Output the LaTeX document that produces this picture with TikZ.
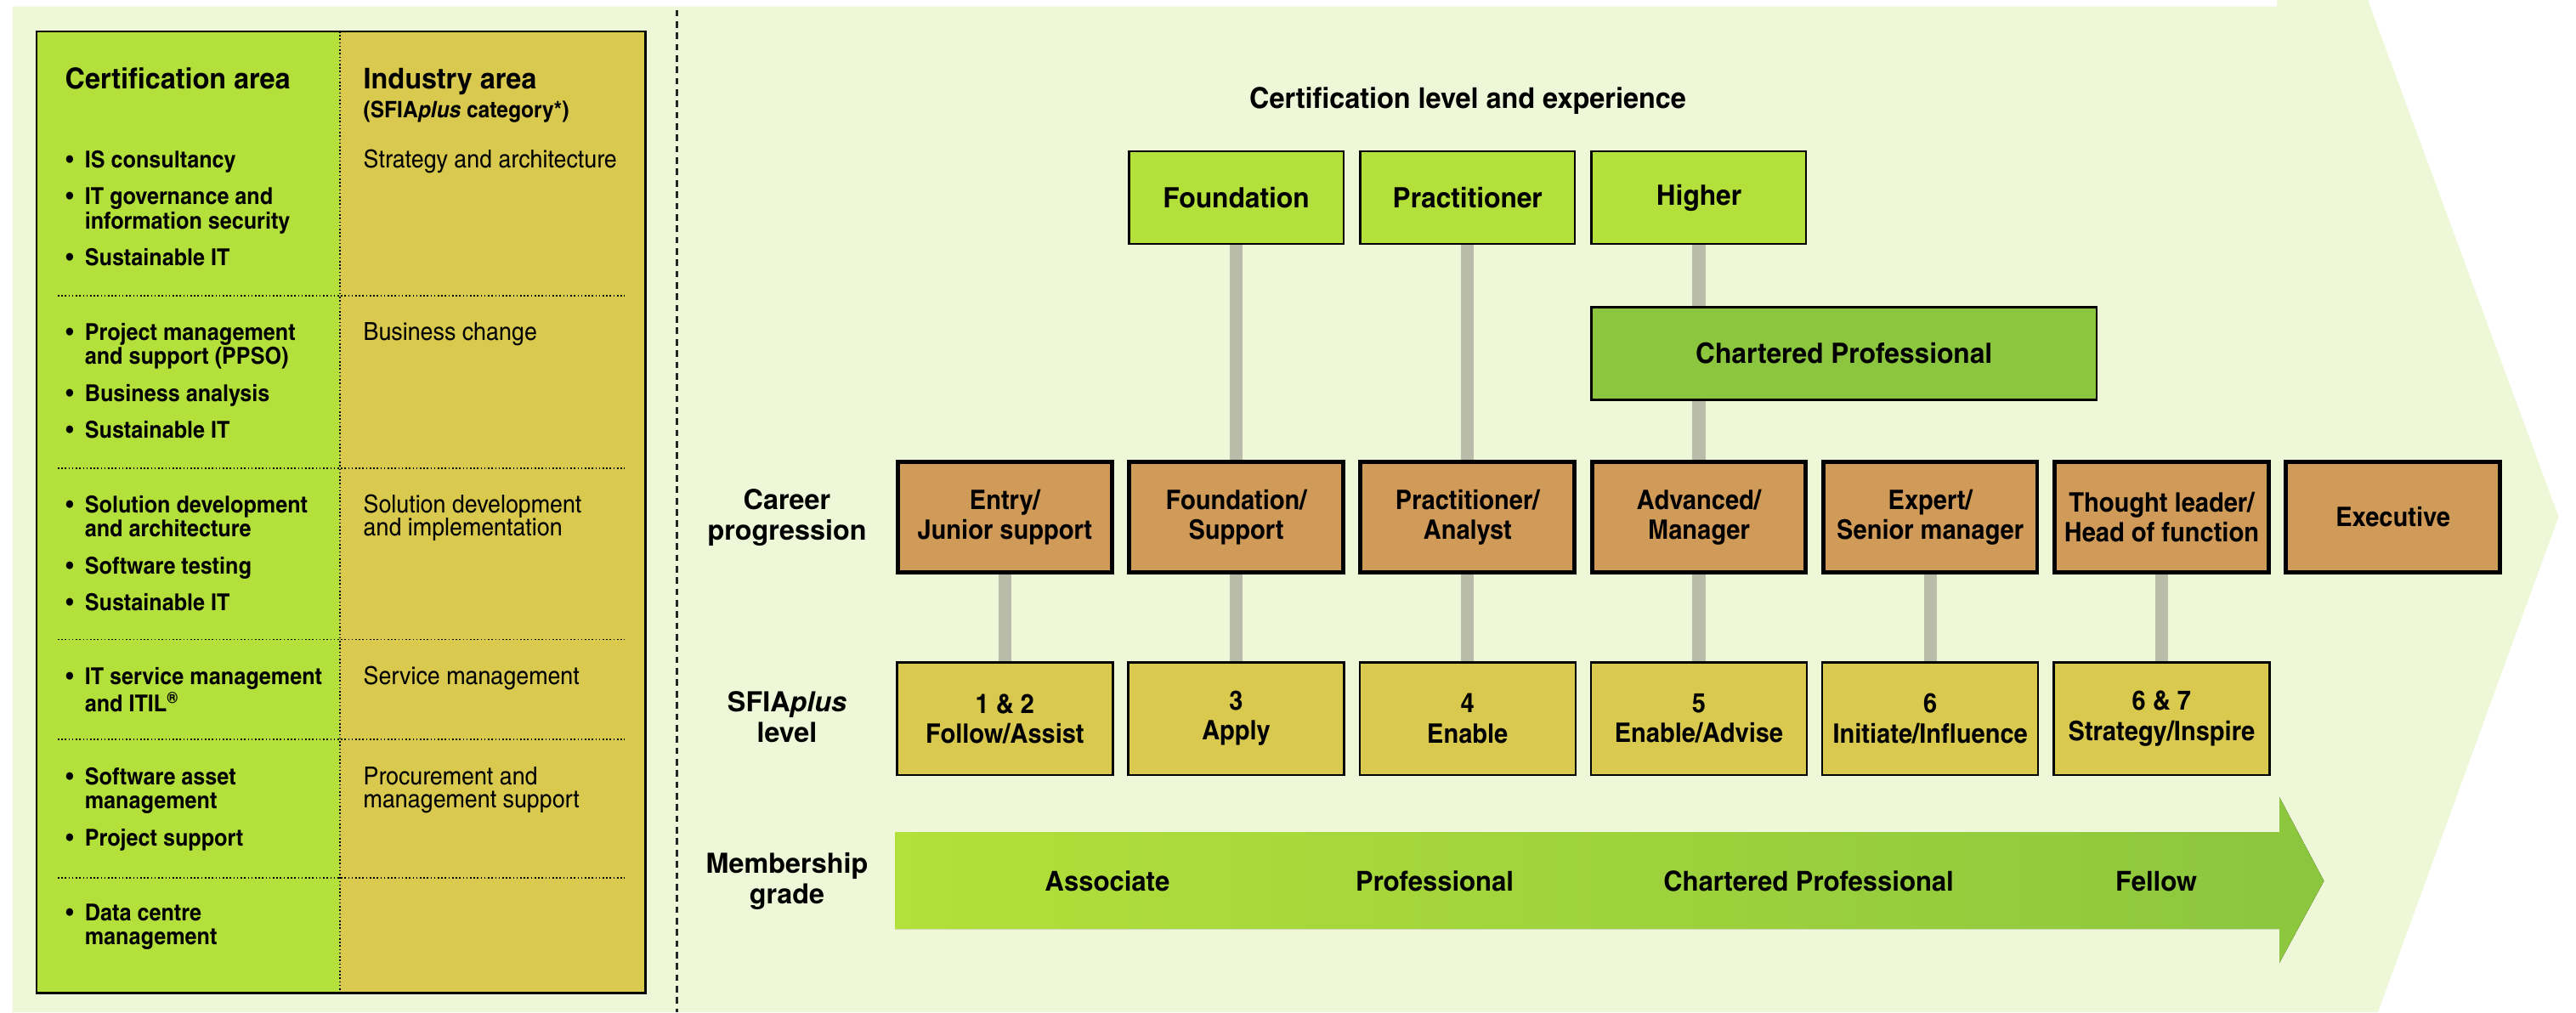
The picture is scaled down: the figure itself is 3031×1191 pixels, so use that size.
\documentclass[tikz,border=0pt]{standalone}
\usepackage{fontspec}
\setmainfont{texgyreheroscn}[
  Extension      = .otf,
  UprightFont    = *-regular,
  BoldFont       = *-bold,
  ItalicFont     = *-italic,
  BoldItalicFont = *-bolditalic,
  FakeStretch    = 1.12]
\newfontfamily\headfamily{texgyreheroscn}[
  Extension      = .otf,
  UprightFont    = *-regular,
  BoldFont       = *-bold,
  ItalicFont     = *-italic,
  BoldItalicFont = *-bolditalic,
  FakeStretch    = 1.17]
\newfontfamily\widefont{texgyreheros}[
  Extension      = .otf,
  UprightFont    = *-regular,
  BoldFont       = *-bold,
  ItalicFont     = *-italic,
  BoldItalicFont = *-bolditalic]
\usetikzlibrary{
  positioning,  % Function "of" (e.g. [below=of x])
}
\definecolor{bggreen}{HTML}{EEF7D8}
\definecolor{certgreen}{HTML}{B3E03A}
\definecolor{areayellow}{HTML}{D9C94E}
\definecolor{careertan}{HTML}{D09A58}
\definecolor{chartgreen}{HTML}{8BC63E}
\definecolor{linkgray}{HTML}{B8BCA8}
\newcommand{\headfont}  {\headfamily\fontsize{9.6}{11}\selectfont\bfseries}
\newcommand{\subfont}   {\fontsize{7.6}{8}\selectfont\bfseries}
\newcommand{\itemfont}  {\fontsize{7.8}{8}\selectfont\bfseries}
\newcommand{\areafont}  {\fontsize{8.3}{7.7}\selectfont}
\newcommand{\boxfont}   {\fontsize{9}{10}\selectfont\bfseries}
\newcommand{\bigboxfont}{\headfamily\fontsize{9.4}{10}\selectfont\bfseries}
\newcommand{\gradefont} {\headfamily\fontsize{9.2}{10}\selectfont\bfseries}
\newcommand{\rowfont}   {\widefont\fontsize{9.2}{10.1}\selectfont\bfseries}
\newcommand{\sfiaplus}{SFIA\textit{plus}}
\newcommand{\itembul}{\makebox[6.3pt][l]{\textbullet}}
\newcommand{\bitem}[1]{\hbox{\itembul#1}}
\newcommand{\bmore}[1]{\hbox{\hspace*{6.3pt}#1}}
\newcommand{\bgap}{\vskip4.5pt}
\def\mygap{1.57mm}
\def\myvgap{10.2mm}
\def\mytopgap{25.24mm}
\tikzset{
  no sep/.style={inner sep=0pt},
  my box/.style={
    draw,
    rectangle,
    inner sep=0pt,
    align=center
  },
  cert/.style={
    my box,
    fill=certgreen,
    line width=0.7pt,
    minimum width=25.25mm,
    minimum height=10.9mm,
    font=\bigboxfont
  },
  chartered/.style={
    my box,
    fill=chartgreen,
    line width=0.7pt,
    minimum width=59.4mm,
    minimum height=10.9mm,
    font=\bigboxfont
  },
  career/.style={
    my box,
    fill=careertan,
    line width=1.4pt,
    minimum width=25.16mm,
    minimum height=13.04mm,
    font=\boxfont
  },
  level/.style={
    my box,
    fill=areayellow,
    line width=0.7pt,
    minimum width=25.4mm,
    minimum height=13.25mm,
    font=\boxfont
  },
  row label/.style={no sep, align=center, font=\rowfont},
  grade/.style={no sep, anchor=base, font=\gradefont},
  cell/.style={no sep, anchor=base west},
  link/.style={draw=linkgray, line width=4.3pt},
  dots/.style={line width=0.45pt, dash pattern=on 0.45pt off 0.75pt},
  divider/.style={draw=black!85, line width=0.65pt, dash pattern=on 2.2pt off 1.6pt}
}
\begin{document}
\begin{tikzpicture}[x=0.1mm,y=-0.1mm,node distance=\mygap]
\useasboundingbox (0,0) rectangle (3031,1191);
% backdrop with its arrow point
\fill[bggreen] (14.6,7.7) -- (2679,7.7) -- (2679,0) -- (2786,0) -- (3010.5,608)
  -- (2798,1191) -- (14.6,1191) -- cycle;
\draw[divider] (796.5,11.5) -- (796.5,1191);

% left table
\fill[certgreen]  (43,37) rectangle (400,1168.5);
\fill[areayellow] (400,37) rectangle (759.4,1168.5);
\draw[dots] (400,37) -- (400,1168.5);
\draw[dots] (68,348) -- (735,348)     (68,551) -- (735,551)
            (68,752.6) -- (735,752.6) (68,870) -- (735,870)
            (68,1033) -- (735,1033);
\draw[line width=0.75pt] (43,37) rectangle (759.4,1168.5);
\node[cell,font=\headfont] (cah) at (76,104)  {Certification area};
\node[cell,font=\headfont] (iah) at (427,104) {Industry area};
\node[cell,font=\subfont]  (iac) at (427,138) {(\sfiaplus{} category*)};
\node[cell,font=\itemfont] (g1) at (77,197) {\vtop{\bitem{IS consultancy}\bgap
  \bitem{IT governance and}\bmore{information security}\bgap
  \bitem{Sustainable IT}}};
\node[cell,font=\itemfont] (g2) at (77,400) {\vtop{\bitem{Project management}
  \bmore{and support (PPSO)}\bgap\bitem{Business analysis}\bgap
  \bitem{Sustainable IT}}};
\node[cell,font=\itemfont] (g3) at (77,603) {\vtop{\bitem{Solution development}
  \bmore{and architecture}\bgap\bitem{Software testing}\bgap
  \bitem{Sustainable IT}}};
\node[cell,font=\itemfont] (g4) at (77,805) {\vtop{\bitem{IT service management}
  \bmore{and ITIL\textsuperscript{\textregistered}}}};
\node[cell,font=\itemfont] (g5) at (77,923) {\vtop{\bitem{Software asset}
  \bmore{management}\bgap\bitem{Project support}}};
\node[cell,font=\itemfont] (g6) at (77,1083) {\vtop{\bitem{Data centre}
  \bmore{management}}};
\node[cell,font=\areafont] (a1) at (427,197) {Strategy and architecture};
\node[cell,font=\areafont] (a2) at (427,400) {Business change};
\node[cell,font=\areafont] (a3) at (427,603)
  {\vtop{\hbox{Solution development}\hbox{and implementation}}};
\node[cell,font=\areafont] (a4) at (427,805) {Service management};
\node[cell,font=\areafont] (a5) at (427,923)
  {\vtop{\hbox{Procurement and}\hbox{management support}}};

% right part
\node[no sep,anchor=base,font=\headfont] (title) at (1727,127)
  {Certification level and experience};
\node[row label] (lcar) at (926,609)   {Career\\progression};
\node[row label] (llev) at (926,843.5) {\sfiaplus\\level};
\node[row label] (lmem) at (926,1037)  {Membership\\grade};

\node[career] (c1) at (1182.3,608.4) {Entry/\\Junior support};
\node[career] (c2) [right=of c1]     {Foundation/\\Support};
\node[career] (c3) [right=of c2]     {Practitioner/\\Analyst};
\node[career] (c4) [right=of c3]     {Advanced/\\Manager};
\node[career] (c5) [right=of c4]     {Expert/\\Senior manager};
\node[career] (c6) [right=of c5]     {Thought leader/\\Head of function};
\node[career] (c7) [right=of c6]     {Executive};

\node[cert] (f) [above=\mytopgap of c2] {Foundation};
\node[cert] (p) [above=\mytopgap of c3] {Practitioner};
\node[cert] (h) [above=\mytopgap of c4] {Higher};
\node[chartered] (cp) [below=7.17mm of h.south west,anchor=north west]
  {Chartered Professional};

\node[level] (s1) [below=\myvgap of c1] {1 \& 2\\Follow/Assist};
\node[level] (s2) [below=\myvgap of c2] {3\\Apply};
\node[level] (s3) [below=\myvgap of c3] {4\\Enable};
\node[level] (s4) [below=\myvgap of c4] {5\\Enable/Advise};
\node[level] (s5) [below=\myvgap of c5] {6\\Initiate/Influence};
\node[level] (s6) [below=\myvgap of c6] {6 \& 7\\Strategy/Inspire};

\path[link] (f)  edge (c2)
            (p)  edge (c3)
            (c1) edge (s1)
            (c2) edge (s2)
            (c3) edge (s3)
            (c4) edge (s4)
            (c5) edge (s5)
            (c6) edge (s6);
\draw[link] (h) -- (h |- cp.north);
\draw[link] (c4 |- cp.south) -- (c4);

% membership arrow
\fill[left color=certgreen,right color=chartgreen]
  (1053,979) -- (2682,979) -- (2682,938) -- (2734.4,1036.7)
  -- (2682,1133) -- (2682,1093) -- (1053,1093) -- cycle;
\node[grade] (m1) at (1303,1048) {Associate};
\node[grade] (m2) at (1688,1048) {Professional};
\node[grade] (m3) at (2128,1048) {Chartered Professional};
\node[grade] (m4) at (2537,1048) {Fellow};
\end{tikzpicture}
\end{document}
